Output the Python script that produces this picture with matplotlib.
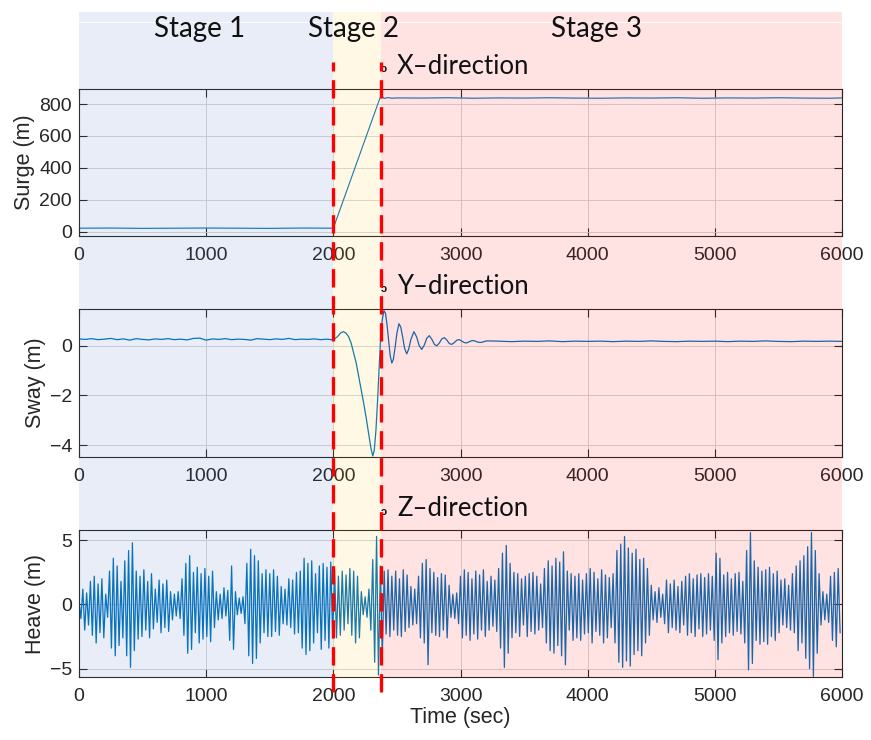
import numpy as np
import matplotlib.pyplot as plt
from matplotlib.patches import Rectangle
from matplotlib.lines import Line2D
from matplotlib.transforms import blended_transform_factory

plt.rcParams['font.family'] = ['Liberation Sans', 'DejaVu Sans']

# stage boundaries (sec)
t_stage = [0, 2000, 2375, 6000]
stage_names = ['Stage 1', 'Stage 2', 'Stage 3']
stage_colors = ['#4472C4', '#FFC000', '#FF0000']
stage_alpha = [0.12, 0.10, 0.11]

# surge (m)
surge_time = [0, 250, 500, 750, 1000, 1250, 1500, 1750, 2000, 2100, 2200, 2300,
              2370, 2385, 2400, 2430, 2460, 2500, 2700, 2900, 3100, 3300, 3500,
              3700, 3900, 4100, 4300, 4500, 4700, 4900, 5100, 5300, 5500, 5700,
              5900, 6000]
surge = [21, 22, 20, 21, 22, 21, 20, 22, 21, 244, 467, 690,
         845, 848, 836, 841, 837, 839, 838, 840, 837, 839, 838,
         840, 838, 837, 839, 838, 840, 837, 839, 838, 840, 838,
         837, 839]

# sway (m)
sway_time = [0, 50, 100, 150, 200, 250, 300, 350, 400, 450, 500, 550, 600, 650,
             700, 750, 800, 850, 900, 950, 1000, 1050, 1100, 1150, 1200, 1250,
             1300, 1350, 1400, 1450, 1500, 1550, 1600, 1650, 1700, 1750, 1800,
             1850, 1900, 1950,
             2000, 2030, 2060, 2080, 2100, 2120, 2140, 2160, 2180, 2200, 2220,
             2240, 2260, 2280, 2295, 2310, 2322, 2335, 2348, 2360, 2372, 2385,
             2398, 2410, 2422, 2435, 2447, 2460, 2472, 2485, 2500, 2516, 2530,
             2545, 2560, 2577, 2592, 2610, 2634, 2655, 2675, 2695, 2715, 2735,
             2755, 2775, 2795, 2813, 2833, 2853, 2873, 2893, 2913, 2931, 2951,
             2971, 2991, 3010, 3030, 3049, 3070, 3090, 3107, 3130, 3150, 3167,
             3190, 3210, 3300, 3400, 3500, 3600, 3700, 3800, 3900, 4000, 4100,
             4200, 4300, 4400, 4500, 4600, 4700, 4800, 4900, 5000, 5100, 5200,
             5300, 5400, 5500, 5600, 5700, 5800, 5900, 6000]
sway = [0.27, 0.25, 0.28, 0.24, 0.26, 0.29, 0.24, 0.27, 0.22, 0.28, 0.25, 0.23,
        0.27, 0.25, 0.28, 0.24, 0.26, 0.23, 0.29, 0.30, 0.22, 0.27, 0.25, 0.28,
        0.24, 0.26, 0.25, 0.22, 0.28, 0.26, 0.24, 0.27, 0.25, 0.29, 0.24, 0.26,
        0.25, 0.27, 0.24, 0.26,
        0.23, 0.35, 0.52, 0.56, 0.50, 0.36, 0.10, -0.30, -0.70, -1.25, -1.80,
        -2.35, -2.95, -3.60, -4.10, -4.43, -4.20, -3.40, -2.20, -0.90, 0.30,
        1.05, 1.40, 1.30, 0.85, 0.20, -0.40, -0.70, -0.55, -0.10, 0.50, 0.88,
        0.75, 0.35, -0.10, -0.33, -0.15, 0.25, 0.56, 0.35, 0.00, -0.15, 0.02,
        0.30, 0.40, 0.25, 0.05, -0.01, 0.10, 0.27, 0.32, 0.22, 0.08, 0.05, 0.12,
        0.22, 0.24, 0.18, 0.12, 0.11, 0.16, 0.20, 0.20, 0.15, 0.13, 0.13, 0.17,
        0.19, 0.18, 0.16, 0.18, 0.17, 0.19, 0.16, 0.18, 0.17, 0.18, 0.16, 0.18,
        0.17, 0.19, 0.17, 0.16, 0.18, 0.17, 0.18, 0.16, 0.18, 0.17, 0.19, 0.17,
        0.16, 0.18, 0.17, 0.18, 0.17]

# heave (m), one value every 15 s
heave_dt = 15
heave = [
    0.3, -1.1, 1.2, -2.0, 0.9, -1.6, 1.8, -2.4, 2.2, -3.0, 1.6, -2.2, 2.0, -2.6, 0.8, -1.0, 2.6, -3.4, 3.6, -4.0,
    3.0, -3.2, 1.8, -2.6, 3.4, -4.0, 4.2, -4.9, 4.8, -3.6, 2.6, -2.7, 2.2, -2.5, 2.7, -2.0, 1.8, -2.6, 2.4, -1.9,
    1.2, -1.4, 1.9, -2.2, 1.6, -1.8, 1.9, -2.1, 1.0, -1.2, 0.8, -0.9, 1.0, -1.1, 2.0, -2.4, 3.2, -3.8, 3.8, -3.5,
    2.5, -2.2, 2.9, -3.0, 2.4, -2.7, 2.8, -2.5, 2.2, -2.9, 2.6, -1.8, 1.0, -1.2, 0.8, -1.1, 1.3, -0.9, 1.1, -2.8,
    3.0, -3.5, 1.0, -0.8, 0.5, -0.7, 0.6, -1.5, 3.2, -4.0, 4.3, -4.6, 3.8, -4.2, 3.4, -3.0, 2.4, -2.2, 2.7, -2.5,
    2.4, -2.5, 2.7, -2.1, 2.2, -2.4, 1.4, -1.5, 1.2, -1.6, 2.0, -1.8, 1.9, -2.3, 2.5, -2.2, 2.6, -3.4, 3.6, -3.9,
    3.2, -3.6, 3.4, -3.0, 2.4, -2.2, 3.0, -3.5, 3.2, -2.8, 2.9, -3.4, 3.3, -2.6, 2.7, -2.6, 2.2, -2.4, 2.6, -2.0,
    2.3, -1.5, 2.8, -2.4, 2.6, -3.0, 2.2, -2.6, 1.0, -0.8, 0.6, -1.0, 1.2, -2.0, 3.5, -4.5, 5.3, -5.5, 3.0, -4.0,
    2.6, -2.3, 2.7, -2.5, 2.2, -2.0, 2.6, -2.4, 2.0, -2.5, 2.7, -2.1, 2.3, -1.8, 1.4, -1.6, 1.2, -1.5, 2.2, -2.6,
    3.2, -3.0, 3.5, -4.7, 2.8, -2.2, 2.5, -2.4, 2.1, -2.5, 2.4, -2.0, 2.3, -2.6, 1.5, -1.0, 0.8, -1.1, 0.9, -1.5,
    2.2, -2.6, 2.7, -2.4, 2.5, -2.8, 2.0, -2.3, 2.6, -2.7, 2.3, -2.0, 2.7, -2.5, 1.8, -2.0, 2.2, -1.7, 1.9, -2.1,
    2.8, -3.4, 4.0, -4.9, 4.6, -3.8, 3.2, -2.6, 2.5, -2.2, 2.4, -2.5, 2.0, -1.6, 2.2, -2.5, 2.4, -2.1, 2.5, -2.3,
    2.2, -2.0, 1.6, -1.8, 2.8, -3.0, 3.4, -3.6, 3.0, -3.8, 3.6, -3.2, 3.3, -4.0, 4.1, -4.7, 2.6, -2.0, 2.4, -2.8,
    2.2, -2.6, 2.4, -2.8, 1.9, -2.3, 2.4, -2.2, 2.8, -3.0, 2.5, -2.1, 2.0, -2.4, 2.7, -3.0, 2.3, -2.6, 2.1, -1.8,
    2.4, -3.0, 4.2, -4.5, 4.7, -4.9, 5.3, -4.4, 4.4, -4.8, 4.0, -3.9, 4.3, -3.6, 3.5, -4.0, 3.6, -3.0, 2.8, -2.4,
    1.5, -1.2, 1.0, -1.4, 1.3, -1.0, 0.8, -1.5, 1.9, -2.2, 1.6, -1.8, 1.9, -2.0, 1.4, -2.2, 1.8, -1.6, 2.2, -2.4,
    2.4, -2.2, 2.0, -2.5, 2.3, -1.9, 2.4, -2.5, 2.1, -2.3, 2.4, -2.0, 2.2, -2.8, 4.0, -4.3, 3.6, -3.0, 2.3, -2.5,
    2.5, -2.2, 2.0, -2.4, 2.4, -2.1, 2.5, -2.3, 1.8, -3.0, 4.2, -5.1, 5.6, -4.6, 3.4, -2.8, 2.9, -3.1, 2.6, -2.9,
    2.7, -3.1, 2.9, -2.5, 2.4, -2.8, 2.6, -2.2, 1.9, -1.6, 2.0, -1.8, 1.5, -2.0, 2.4, -2.2, 3.0, -3.6, 3.4, -3.0,
    3.8, -4.2, 4.5, -5.0, 5.6, -5.6, 4.2, -3.8, 2.4, -1.6, 1.0, -1.2, 0.8, -1.4, 2.2, -2.8, 2.5, -3.3, 2.8, -2.2,
]
heave_time = np.arange(len(heave)) * heave_dt

line_color = '#0072BD'
W, H = 871, 740

fig = plt.figure(figsize=(W / 100, H / 100), dpi=100)
left, width = 79 / W, 763 / W
ax1 = fig.add_axes([left, 1 - 236 / H, width, 147 / H])
ax2 = fig.add_axes([left, 1 - 457 / H, width, 148 / H])
ax3 = fig.add_axes([left, 1 - 677 / H, width, 147 / H])

ax1.plot(surge_time, surge, color=line_color, lw=0.8)
ax2.plot(sway_time, sway, color=line_color, lw=0.9)
ax3.plot(heave_time, heave, color=line_color, lw=0.9)

ax1.set_ylim(-28, 895)
ax1.set_yticks([0, 200, 400, 600, 800])
ax1.set_ylabel('Surge (m)', fontsize=15.5, labelpad=3)
ax2.set_ylim(-4.47, 1.47)
ax2.set_yticks([-4, -2, 0])
ax2.set_ylabel('Sway (m)', fontsize=15.5, labelpad=3)
ax3.set_ylim(-5.65, 5.8)
ax3.set_yticks([-5, 0, 5])
ax3.set_ylabel('Heave (m)', fontsize=15.5, labelpad=3)
ax3.set_xlabel('Time (sec)', fontsize=15.5, labelpad=1)

for ax in (ax1, ax2, ax3):
    ax.set_facecolor('none')
    ax.set_xlim(0, 6000)
    ax.set_xticks(range(0, 6001, 1000))
    ax.tick_params(direction='in', length=6, width=0.8, top=True, right=True,
                   labelsize=14, color='#262626', labelcolor='#262626')
    ax.tick_params(axis='x', pad=8)
    ax.tick_params(axis='y', pad=5)
    ax.grid(True, color='#d0d0d0', lw=0.6)
    for s in ax.spines.values():
        s.set_color('#262626')
        s.set_linewidth(0.8)
    ax.yaxis.label.set_color('#262626')
    ax.xaxis.label.set_color('#262626')

# stage shading over the plots
tr = blended_transform_factory(ax3.transData, fig.transFigure)
y_lo, y_hi = 1 - 678 / H, 1 - 12 / H
for i in range(3):
    fig.patches.append(Rectangle((t_stage[i], y_lo), t_stage[i + 1] - t_stage[i],
                                 y_hi - y_lo, transform=tr, facecolor=stage_colors[i],
                                 alpha=stage_alpha[i], edgecolor='none', zorder=1))
fig.lines.append(Line2D([0, 6000], [1 - 22 / H] * 2, transform=tr, color='white',
                        lw=0.8, alpha=0.8, zorder=1.5))

# stage boundaries
for tb in t_stage[1:3]:
    fig.lines.append(Line2D([tb, tb], [1 - 692 / H, 1 - 62 / H], transform=tr,
                            color='#FF0000', lw=2.4, ls=(0, (5.5, 2.6)), zorder=4))

stage_x = [950, 2160, 4070]
for name, sx in zip(stage_names, stage_x):
    fig.text(sx, 1 - 29 / H, name, transform=tr, ha='center', va='center',
             fontsize=20, family='Lato', color='#111111', zorder=5)

for lab, yy in zip(['X\u2013direction', 'Y\u2013direction', 'Z\u2013direction'], [66, 286, 509]):
    fig.text(2500, 1 - yy / H, lab, transform=tr, ha='left', va='center',
             fontsize=18.5, family='Lato', color='#111111', zorder=5)
    # small arrow tip partly hidden by the boundary line
    fig.text(2372, 1 - (yy + 3) / H, '\u0254', transform=tr, ha='left', va='center',
             fontsize=8, fontweight='bold', color='#111111', zorder=3)

fig.savefig('out.png', dpi=100)
